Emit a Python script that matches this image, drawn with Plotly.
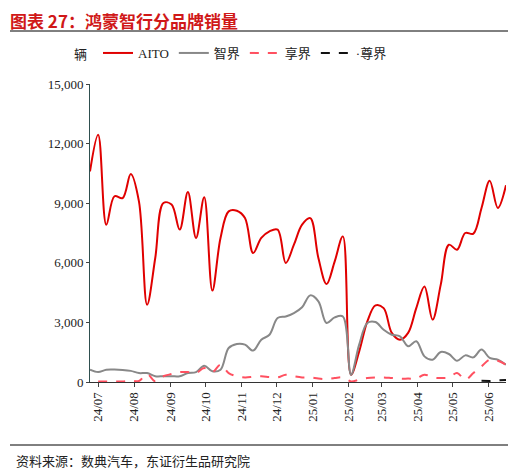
import plotly.graph_objects as go
import pandas as pd

dates = pd.date_range("2024-06-24", periods=52, freq="7D")
atto = [10600,12450,7920,9350,9260,10470,9090,3890,6240,9010,8930,7670,9560,7250,9300,4600,
        7250,8590,8620,8250,6490,7250,7580,7670,5990,6910,7920,8250,6240,4930,6070,7330,
        370,1540,3050,3860,3720,2470,2130,2470,3720,4810,3140,4900,6910,6660,7500,7470,8760,10130,8760,9900]
zhijie = [620,500,620,630,610,560,450,450,290,290,290,290,450,500,820,540,620,1710,1910,1880,1580,2130,
          2380,3220,3300,3470,3760,4360,4060,2970,3250,3300,370,1880,2970,3020,2630,2380,2300,1800,2050,
          1290,1120,1510,1410,1070,1340,1240,1630,1210,1120,870]
xiangjie = [None,30,30,30,30,70,50,400,30,290,400,500,500,450,700,500,870,450,290,230,260,290,250,230,370,
            290,230,230,170,150,200,230,30,120,200,230,230,200,170,170,170,370,230,200,230,450,120,450,790,
            1120,1070,870]
zunjie = [None]*48 + [60, 50, 80, 100]

fig = go.Figure()
fig.add_trace(go.Scatter(x=dates, y=atto, name="AITO", mode="lines", line=dict(color="#e00000", width=2, shape="spline")))
fig.add_trace(go.Scatter(x=dates, y=zhijie, name="智界", mode="lines", line=dict(color="#888888", width=2, shape="spline")))
fig.add_trace(go.Scatter(x=dates, y=xiangjie, name="享界", mode="lines", line=dict(color="#ff5060", width=2, dash="dash", shape="spline")))
fig.add_trace(go.Scatter(x=dates, y=zunjie, name="·尊界", mode="lines", line=dict(color="#111111", width=2, dash="dash")))

fnt = "Liberation Serif, Noto Sans CJK SC"
fig.update_layout(
    width=516, height=470, paper_bgcolor="white", plot_bgcolor="white",
    margin=dict(l=82, r=18, t=76, b=96, autoexpand=False),
    font=dict(family=fnt, size=13, color="#222"),
    showlegend=True,
    legend=dict(orientation="h", x=8/416, xanchor="left", y=1 + (76 - 45) / 298, yanchor="middle", yref="paper",
                font=dict(size=13), bgcolor="rgba(0,0,0,0)"),
    xaxis=dict(type="date", range=["2024-06-24", "2025-06-16"], dtick="M1", tick0="2024-07-01",
               tickformat="%y/%m", tickangle=-90, showgrid=False, ticks="outside", ticklen=4,
               showline=True, linecolor="#333", tickfont=dict(size=13)),
    yaxis=dict(range=[0, 15000], dtick=3000, tickformat=",", showgrid=False, showline=True,
               linecolor="#2f4f4f", ticks="outside", ticklen=3, tickfont=dict(size=13)),
)
fig.add_annotation(text="<b>图表 27：鸿蒙智行分品牌销量</b>", xref="paper", yref="paper", x=-82/416, y=1 + 64/298,
                   xanchor="left", yanchor="middle", showarrow=False,
                   font=dict(size=17, color="#d01818", family="Noto Sans CJK SC"))
fig.add_annotation(text="辆", xref="paper", yref="paper", x=-18/416, y=1 + 31/298,
                   xanchor="left", yanchor="middle", showarrow=False, font=dict(size=13, family="Noto Sans CJK SC"))
fig.add_annotation(text="资料来源：数典汽车，东证衍生品研究院", xref="paper", yref="paper", x=-76/416, y=-78/298,
                   xanchor="left", yanchor="middle", showarrow=False, font=dict(size=13, family="Noto Sans CJK SC"))
fig.add_shape(type="line", xref="paper", yref="paper", x0=-80/416, x1=1 + 16/416, y0=1 + 53/298, y1=1 + 53/298,
              line=dict(color="#000", width=1))
fig.add_shape(type="line", xref="paper", yref="paper", x0=-80/416, x1=1 + 16/416, y0=-63/298, y1=-63/298,
              line=dict(color="#000", width=1))
fig.write_html("out.html")
